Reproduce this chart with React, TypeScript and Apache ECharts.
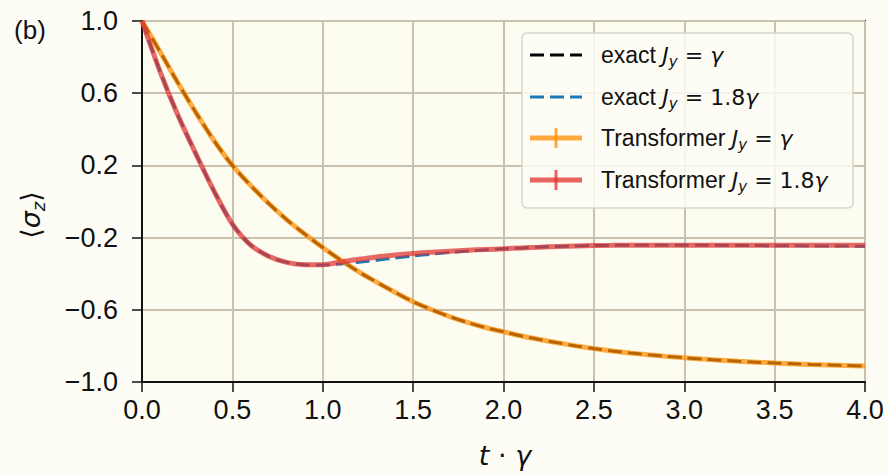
import React, { useEffect, useRef } from 'react';
import * as echarts from 'echarts';

// time axis t·γ
const T = [
  0.0, 0.1, 0.2, 0.3, 0.4, 0.5, 0.6, 0.7, 0.8, 0.9,
  1.0, 1.1, 1.2, 1.3, 1.4, 1.5, 1.6, 1.7, 1.8, 1.9,
  2.0, 2.1, 2.2, 2.3, 2.4, 2.5, 2.6, 2.7, 2.8, 2.9,
  3.0, 3.1, 3.2, 3.3, 3.4, 3.5, 3.6, 3.7, 3.8, 3.9, 4.0,
];

// exact, J_y = γ
const exactJ1 = [
  1.0, 0.83, 0.655, 0.49, 0.335, 0.2, 0.09, -0.01, -0.1, -0.18,
  -0.255, -0.325, -0.39, -0.448, -0.503, -0.555, -0.598, -0.637, -0.67, -0.698,
  -0.722, -0.745, -0.765, -0.783, -0.8, -0.815, -0.828, -0.839, -0.849, -0.858,
  -0.866, -0.873, -0.879, -0.885, -0.89, -0.895, -0.899, -0.903, -0.906, -0.909, -0.912,
];

// exact, J_y = 1.8γ
const exactJ18 = [
  1.0, 0.72, 0.475, 0.26, 0.055, -0.125, -0.24, -0.303, -0.337, -0.35,
  -0.352, -0.346, -0.336, -0.325, -0.313, -0.302, -0.292, -0.283, -0.275, -0.268,
  -0.262, -0.257, -0.252, -0.249, -0.246, -0.244, -0.243, -0.242, -0.242, -0.242,
  -0.242, -0.243, -0.243, -0.244, -0.244, -0.245, -0.245, -0.246, -0.246, -0.247, -0.248,
];

// Transformer, J_y = γ
const transJ1 = [
  1.0, 0.83, 0.655, 0.49, 0.335, 0.2, 0.09, -0.01, -0.1, -0.18,
  -0.255, -0.325, -0.39, -0.448, -0.503, -0.555, -0.598, -0.637, -0.67, -0.698,
  -0.722, -0.745, -0.765, -0.783, -0.8, -0.815, -0.828, -0.839, -0.849, -0.858,
  -0.866, -0.873, -0.879, -0.885, -0.89, -0.895, -0.899, -0.903, -0.906, -0.909, -0.912,
];

// Transformer, J_y = 1.8γ
const transJ18 = [
  1.0, 0.72, 0.475, 0.26, 0.055, -0.125, -0.24, -0.303, -0.337, -0.35,
  -0.35, -0.335, -0.32, -0.307, -0.297, -0.288, -0.281, -0.275, -0.27, -0.266,
  -0.262, -0.257, -0.253, -0.249, -0.246, -0.244, -0.243, -0.242, -0.242, -0.242,
  -0.242, -0.242, -0.242, -0.242, -0.242, -0.242, -0.242, -0.243, -0.243, -0.243, -0.243,
];

const legendLabels = [
  'exact {i|J}{s|y}{m| = }{i|γ}',
  'exact {i|J}{s|y}{m| = 1.8}{i|γ}',
  'Transformer {i|J}{s|y}{m| = }{i|γ}',
  'Transformer {i|J}{s|y}{m| = 1.8}{i|γ}',
];

const SANS = 'Liberation Sans';
const MATH = 'DejaVu Sans';
const INK = '#111111';
const BLACK = '#000000';
const BLUE = '#1f77b4';
const ORANGE = '#ff8c00';
const RED = '#e0302c';

const pair = (ys: number[]) => T.map((t, i) => [t, ys[i]]);

const fmt = (v: number) => {
  const r = Math.round(v * 10) / 10;
  const s = Math.abs(r).toFixed(1);
  return r < 0 ? '\u2212' + s : s;
};

export default function App() {
  const ref = useRef<HTMLDivElement>(null);
  useEffect(() => {
    if (!ref.current) return;
    const chart = echarts.init(ref.current, undefined, { renderer: 'svg' });
    const rich = {
      i: { fontFamily: MATH, fontSize: 22, fontStyle: 'italic', fill: INK },
      m: { fontFamily: MATH, fontSize: 22, fill: INK },
      s: { fontFamily: MATH, fontSize: 15, fontStyle: 'italic', padding: [14, 0, 0, 0], fill: INK },
    };
    const legX = 522, legY = 33, legW = 331, legH = 175;
    const rowY = [55, 97, 138, 180];
    const legendGraphics: any[] = [
      {
        type: 'rect', shape: { x: legX, y: legY, width: legW, height: legH, r: 5 },
        style: { fill: 'rgba(253,253,246,0.85)', stroke: '#d6d6cc', lineWidth: 1.5 }, z: 100,
      },
    ];
    const lineSpecs = [
      { color: BLACK, dash: [14, 6], width: 3, opacity: 1, bar: false },
      { color: BLUE, dash: [14, 6], width: 3, opacity: 1, bar: false },
      { color: ORANGE, dash: null, width: 5, opacity: 0.75, bar: true },
      { color: RED, dash: null, width: 5, opacity: 0.75, bar: true },
    ];
    lineSpecs.forEach((sp, k) => {
      const y = rowY[k];
      legendGraphics.push({
        type: 'line', shape: { x1: 530, y1: y, x2: 582, y2: y },
        style: { stroke: sp.color, lineWidth: sp.width, lineDash: sp.dash || undefined, opacity: sp.opacity },
        z: 101,
      });
      if (sp.bar) {
        legendGraphics.push({
          type: 'line', shape: { x1: 556, y1: y - 10, x2: 556, y2: y + 10 },
          style: { stroke: sp.color, lineWidth: 3, opacity: sp.opacity }, z: 101,
        });
      }
      legendGraphics.push({
        type: 'text', x: 601, y: y,
        style: {
          text: legendLabels[k], rich, fontFamily: SANS, fontSize: 23, fill: INK,
          align: 'left', verticalAlign: 'middle',
        },
        z: 102,
      });
    });

    const axisCommon = {
      axisLine: { show: true, onZero: false, lineStyle: { color: INK, width: 2 } },
      axisTick: { show: true, length: 10, lineStyle: { color: INK, width: 1.5 } },
      splitLine: { show: true, lineStyle: { color: '#c9c0ad', width: 2 } },
    };

    const option: any = {
      animation: false,
      backgroundColor: '#fdfdf6',
      grid: {
        left: 142, right: 23, top: 21, bottom: 92, show: true,
        backgroundColor: '#fcfcf0', borderColor: INK, borderWidth: 2,
      },
      xAxis: {
        type: 'value', min: 0, max: 4, interval: 0.5,
        ...axisCommon,
        axisLabel: { formatter: fmt, fontFamily: SANS, fontSize: 27, color: INK, margin: 14 },
      },
      yAxis: {
        type: 'value', min: -1, max: 1, interval: 0.4,
        ...axisCommon,
        axisLabel: { formatter: fmt, fontFamily: SANS, fontSize: 27, color: INK, margin: 24 },
      },
      series: [
        {
          name: 'exact Jy = γ', type: 'line', data: pair(exactJ1), showSymbol: false, smooth: 0.3,
          lineStyle: { color: BLACK, width: 3, type: [14, 6] }, z: 2,
        },
        {
          name: 'exact Jy = 1.8γ', type: 'line', data: pair(exactJ18), showSymbol: false, smooth: 0.3,
          lineStyle: { color: BLUE, width: 3, type: [14, 6] }, z: 2,
        },
        {
          name: 'Transformer Jy = γ', type: 'line', data: pair(transJ1), showSymbol: false, smooth: 0.3,
          lineStyle: { color: ORANGE, width: 5, opacity: 0.72 }, z: 3,
        },
        {
          name: 'Transformer Jy = 1.8γ', type: 'line', data: pair(transJ18), showSymbol: false, smooth: 0.3,
          lineStyle: { color: RED, width: 5, opacity: 0.72 }, z: 3,
        },
      ],
      graphic: [
        {
          type: 'text', x: 30, y: 30,
          style: { text: '(b)', fontFamily: SANS, fontSize: 26, fill: INK, align: 'center', verticalAlign: 'middle' },
        },
        {
          type: 'text', x: 505, y: 455,
          style: {
            text: '{i|t}{m| · }{i|γ}', fontFamily: MATH, fontSize: 27, fill: INK, align: 'center', verticalAlign: 'middle',
            rich: {
              i: { fontFamily: MATH, fontSize: 27, fontStyle: 'italic', fill: INK },
              m: { fontFamily: MATH, fontSize: 27, fill: INK },
            },
          },
        },
        {
          type: 'text', x: 30, y: 215, rotation: Math.PI / 2,
          style: {
            text: '{m|⟨}{i|σ}{s|z}{m|⟩}', fontFamily: MATH, fontSize: 27, fill: INK, align: 'center', verticalAlign: 'middle',
            rich: {
              m: { fontFamily: MATH, fontSize: 27, fill: INK },
              i: { fontFamily: MATH, fontSize: 27, fontStyle: 'italic', fill: INK },
              s: { fontFamily: MATH, fontSize: 18, fontStyle: 'italic', padding: [16, 0, 0, 0], fill: INK },
            },
          },
        },
        ...legendGraphics,
      ],
    };
    chart.setOption(option);
    return () => chart.dispose();
  }, []);
  return (
    <div
      ref={ref}
      style={{ position: 'fixed', left: 0, top: 0, width: 888, height: 474, background: '#fdfdf6' }}
    />
  );
}
